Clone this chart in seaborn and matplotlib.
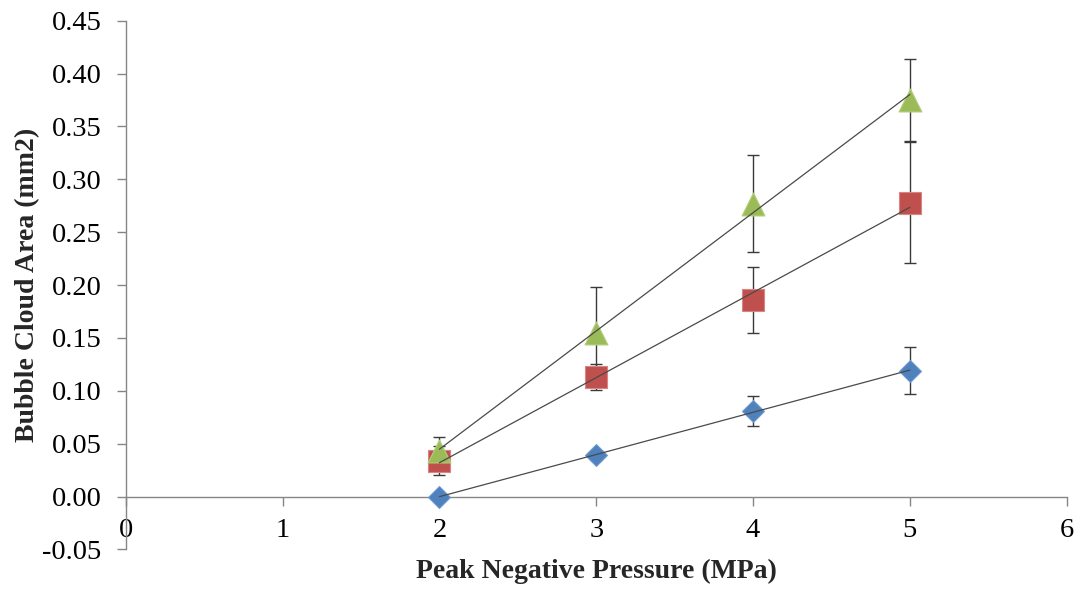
import numpy as np
import pandas as pd
import seaborn as sns
import matplotlib
matplotlib.use("Agg")
import matplotlib.pyplot as plt

# ---- data ----
pressure = [2, 3, 4, 5]
blue_vals = [0.000, 0.039, 0.081, 0.119]
blue_err = [0.000, 0.004, 0.014, 0.022]
red_vals = [0.034, 0.113, 0.186, 0.278]
red_err = [0.014, 0.012, 0.031, 0.057]
green_vals = [0.043, 0.155, 0.277, 0.375]
green_err = [0.013, 0.043, 0.046, 0.039]

x_ticks = [0, 1, 2, 3, 4, 5, 6]
y_ticks = [-0.05, 0.00, 0.05, 0.10, 0.15, 0.20, 0.25, 0.30, 0.35, 0.40, 0.45]

sns.set_style("white")
plt.rcParams['font.family'] = ['Liberation Serif', 'DejaVu Serif']

fig = plt.figure(figsize=(10.8, 5.89), dpi=100)
ax = fig.add_axes([0.1164, 0.0671, 0.9877 - 0.1164, 0.9649 - 0.0671])

series = [
    (blue_vals, blue_err, 'D', 125, '#4F81BD', '#6f9bd1'),
    (red_vals, red_err, 's', 250, '#C0504D', '#d98583'),
    (green_vals, green_err, '^', 272, '#9BBB59', '#b3cf7a'),
]

for vals, errs, m, s, c, ec in series:
    ax.errorbar(pressure, vals, yerr=errs, fmt='none', ecolor='#3a3a3a',
                elinewidth=1.0, capsize=4, capthick=1.0, zorder=2)
    sns.scatterplot(x=pressure, y=vals, marker=m, s=s, color=c,
                    edgecolor=ec, linewidth=0.8, ax=ax, zorder=3, legend=False)
    coef = np.polyfit(pressure, vals, 1)
    xs = np.array([pressure[0], pressure[-1]])
    ax.plot(xs, np.polyval(coef, xs), color='#4a4a4a', lw=0.9, zorder=4)

ax.set_xlim(0, 6)
ax.set_ylim(-0.05, 0.45)
ax.set_xticks(x_ticks)
ax.set_yticks(y_ticks)
ax.set_xticklabels([str(t) for t in x_ticks])
ax.set_yticklabels([f"{t:.2f}" for t in y_ticks])

for side in ['top', 'right']:
    ax.spines[side].set_visible(False)
ax.spines['bottom'].set_position(('data', 0))
for side in ['left', 'bottom']:
    ax.spines[side].set_color('#868686')
    ax.spines[side].set_linewidth(1.0)

ax.tick_params(axis='both', which='major', direction='out', length=6.5,
               width=1.0, color='#868686', labelsize=20.5, labelcolor='black',
               left=True, bottom=True)
ax.tick_params(axis='y', pad=11)
ax.tick_params(axis='x', pad=9)

ax.set_xlabel('Peak Negative Pressure (MPa)', fontsize=20, fontweight='bold')
ax.set_ylabel('Bubble Cloud Area (mm2)', fontsize=20, fontweight='bold')
ax.xaxis.set_label_coords(0.5, -0.0407)
ax.xaxis.label.set_va('center')
ax.yaxis.set_label_coords(-0.1038, 0.5)
ax.yaxis.label.set_va('center')

fig.savefig('out.png', dpi=100)
